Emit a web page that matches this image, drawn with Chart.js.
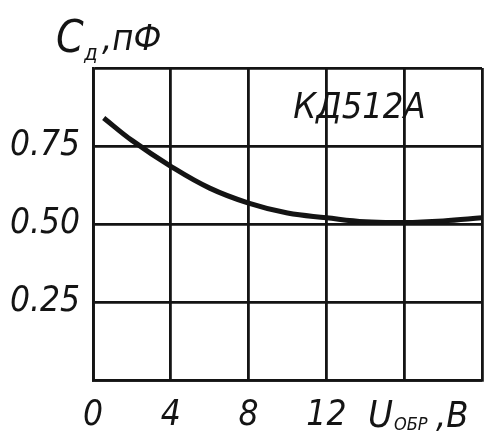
<!DOCTYPE html>
<html>
<head>
<meta charset="utf-8">
<script src="https://cdn.jsdelivr.net/npm/chart.js@4.4.0/dist/chart.umd.min.js"></script>
<style>
  html, body { margin: 0; padding: 0; background: #fff; }
  #wrap { width: 487px; height: 437px; }
</style>
</head>
<body>
<div id="wrap"><canvas id="chart" width="487" height="437"></canvas></div>
<script>
// Обратное напряжение, В
const voltage = [0.55, 2, 4, 6, 8, 10, 12, 14, 16, 18, 20];
// Ёмкость диода, пФ
const capacitance = [0.84, 0.768, 0.685, 0.615, 0.567, 0.535, 0.52, 0.507, 0.505, 0.51, 0.52];

const xTicks = [0, 4, 8, 12];
const yTicks = [0.25, 0.5, 0.75];
const deviceName = 'КД512А';

const FONT = '"Liberation Sans Narrow", "DejaVu Sans Condensed", sans-serif';
const INK = '#141414';

// подписи осей и название прибора
const labelsPlugin = {
    id: 'labels',
    afterDraw(chart) {
        const ctx = chart.ctx;
        const xs = chart.scales.x;
        const ys = chart.scales.y;
        ctx.save();
        ctx.fillStyle = INK;
        ctx.textBaseline = 'alphabetic';
        ctx.textAlign = 'left';

        // C_д, пФ
        ctx.font = 'italic 44px ' + FONT;
        ctx.fillText('C', 56, 52);
        ctx.font = 'italic 22px ' + FONT;
        ctx.fillText('д', 84, 60);
        ctx.font = 'italic 36px ' + FONT;
        ctx.fillText(',пФ', 102, 50);

        // U_обр, В
        ctx.font = 'italic 38px ' + FONT;
        ctx.fillText('U', 368, 427);
        ctx.font = 'italic 18px ' + FONT;
        ctx.fillText('ОБР', 394, 430);
        ctx.font = 'italic 36px ' + FONT;
        ctx.fillText(',В', 436, 427);

        // КД512А
        ctx.font = 'italic 36px ' + FONT;
        ctx.fillText(deviceName, xs.getPixelForValue(10.3), ys.getPixelForValue(0.84));
        ctx.restore();
    }
};

const ctx = document.getElementById('chart').getContext('2d');
new Chart(ctx, {
    type: 'line',
    data: {
        datasets: [{
            data: voltage.map((v, i) => ({ x: v, y: capacitance[i] })),
            borderColor: INK,
            borderWidth: 5,
            pointRadius: 0,
            tension: 0.4,
            fill: false
        }]
    },
    options: {
        responsive: false,
        animation: false,
        layout: { padding: { top: 68, right: 5, left: 0, bottom: 0 } },
        plugins: { legend: { display: false }, tooltip: { enabled: false } },
        scales: {
            x: {
                type: 'linear',
                min: 0,
                max: 20,
                afterBuildTicks: s => { s.ticks = [0, 4, 8, 12, 16, 20].map(v => ({ value: v })); },
                afterFit: s => { s.height = 57; s.paddingRight = 0; s.paddingLeft = 0; },
                grid: { color: INK, lineWidth: 2.8, drawTicks: false },
                border: { color: INK, width: 2.8 },
                ticks: {
                    padding: 15,
                    color: INK,
                    font: { family: FONT, size: 35, style: 'italic' },
                    callback: v => xTicks.includes(v) ? String(v) : ''
                }
            },
            y: {
                min: 0,
                max: 1,
                afterBuildTicks: s => { s.ticks = [0, 0.25, 0.5, 0.75, 1].map(v => ({ value: v })); },
                afterFit: s => { s.width = 93; s.paddingTop = 0; s.paddingBottom = 0; },
                grid: { color: INK, lineWidth: 2.8, drawTicks: false },
                border: { color: INK, width: 2.8 },
                ticks: {
                    padding: 13,
                    color: INK,
                    font: { family: FONT, size: 35, style: 'italic' },
                    callback: v => yTicks.includes(v) ? v.toFixed(2) : ''
                }
            }
        }
    },
    plugins: [labelsPlugin]
});
</script>
</body>
</html>
